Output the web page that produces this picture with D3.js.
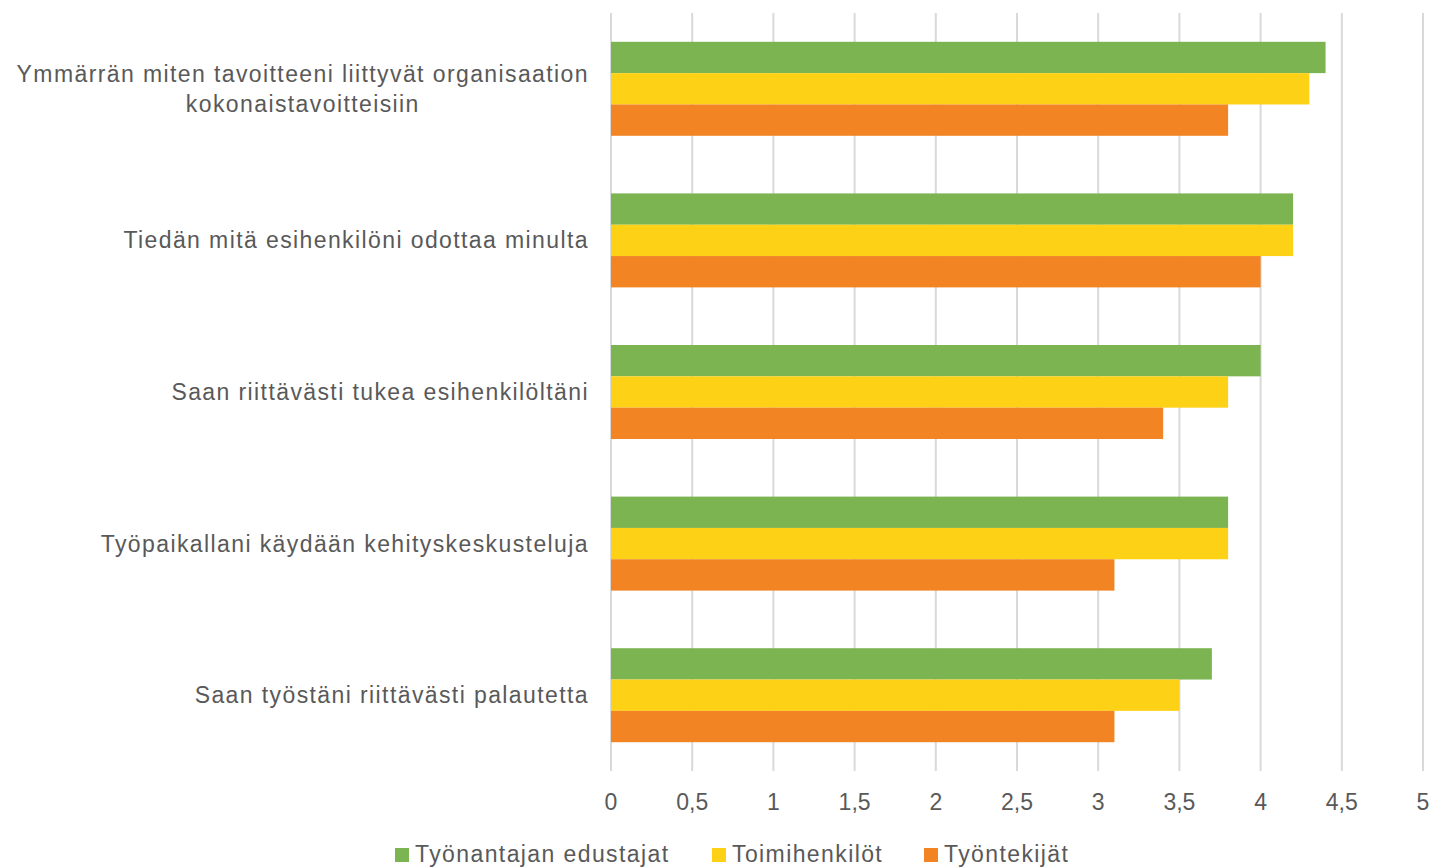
<!DOCTYPE html>
<html>
<head>
<meta charset="utf-8">
<script src="https://cdn.jsdelivr.net/npm/d3@7"></script>
<style>
  body { margin: 0; background: #fff; }
  text { font-family: "Liberation Sans", Arial, sans-serif; fill: #595959; letter-spacing: 1.4px; }
</style>
</head>
<body>
<div id="chart"></div>
<script>
var width = 1433, height = 867;
var margin = {top: 13, right: 10, bottom: 96, left: 611};

// categories, top to bottom
var categories = [
    ["Ymmärrän miten tavoitteeni liittyvät organisaation", "kokonaistavoitteisiin"],
    ["Tiedän mitä esihenkilöni odottaa minulta"],
    ["Saan riittävästi tukea esihenkilöltäni"],
    ["Työpaikallani käydään kehityskeskusteluja"],
    ["Saan työstäni riittävästi palautetta"]
];
var catKeys = categories.map(function(c) { return c.join(" "); });

var seriesNames = ["Työnantajan edustajat", "Toimihenkilöt", "Työntekijät"];
var seriesColors = ["#7cb452", "#fdd116", "#f28423"];

var tyonantajat = [4.4, 4.2, 4.0, 3.8, 3.7];
var toimihenkilot = [4.3, 4.2, 3.8, 3.8, 3.5];
var tyontekijat = [3.8, 4.0, 3.4, 3.1, 3.1];
var seriesValues = [tyonantajat, toimihenkilot, tyontekijat];

var xTicks = [0, 0.5, 1, 1.5, 2, 2.5, 3, 3.5, 4, 4.5, 5];

var svg = d3.select("#chart").append("svg")
    .attr("width", width)
    .attr("height", height);

var g = svg.append("g")
    .attr("transform", "translate(" + margin.left + "," + margin.top + ")");

var x = d3.scaleLinear().domain([0, 5]).range([0, 812]);

var y = d3.scaleBand().domain(catKeys).range([0, 758]).paddingInner(0.38).paddingOuter(0.19);
var ySub = d3.scaleBand().domain(seriesNames).range([0, y.bandwidth()]);

// gridlines
g.selectAll(".grid")
    .data(xTicks)
    .enter().append("line")
    .attr("x1", function(d) { return x(d); })
    .attr("x2", function(d) { return x(d); })
    .attr("y1", 0)
    .attr("y2", 758)
    .attr("stroke", "#d9d9d9")
    .attr("stroke-width", 2);

// bars
seriesNames.forEach(function(s, si) {
    g.selectAll(".bar" + si)
        .data(seriesValues[si])
        .enter().append("rect")
        .attr("x", x(0))
        .attr("y", function(d, i) { return y(catKeys[i]) + ySub(s); })
        .attr("width", function(d) { return x(d) - x(0); })
        .attr("height", ySub.bandwidth())
        .attr("fill", seriesColors[si]);
});

// x tick labels
g.selectAll(".tick-label")
    .data(xTicks)
    .enter().append("text")
    .attr("x", function(d) { return x(d); })
    .attr("y", 797)
    .attr("text-anchor", "middle")
    .style("font-size", "23px")
    .style("letter-spacing", "0px")
    .text(function(d) { return String(d).replace(".", ","); });

// category labels
categories.forEach(function(lines, i) {
    var cy = y(catKeys[i]) + y.bandwidth() / 2;
    var lineH = 30;
    var grp = g.append("g");
    var texts = lines.map(function(line, li) {
        return grp.append("text")
            .attr("y", cy + (li - (lines.length - 1) / 2) * lineH + 8)
            .style("font-size", "23px")
            .text(line);
    });
    var maxW = d3.max(texts, function(t) { return t.node().getComputedTextLength(); });
    texts.forEach(function(t) {
        t.attr("x", -22 - maxW / 2).attr("text-anchor", "middle");
    });
});

// legend
var legend = svg.append("g");
var lx = [395, 712, 924];
seriesNames.forEach(function(s, si) {
    legend.append("rect")
        .attr("x", lx[si])
        .attr("y", 848)
        .attr("width", 14)
        .attr("height", 14)
        .attr("fill", seriesColors[si]);
    legend.append("text")
        .attr("x", lx[si] + 20)
        .attr("y", 862)
        .style("font-size", "23px")
        .text(s);
});
</script>
</body>
</html>
